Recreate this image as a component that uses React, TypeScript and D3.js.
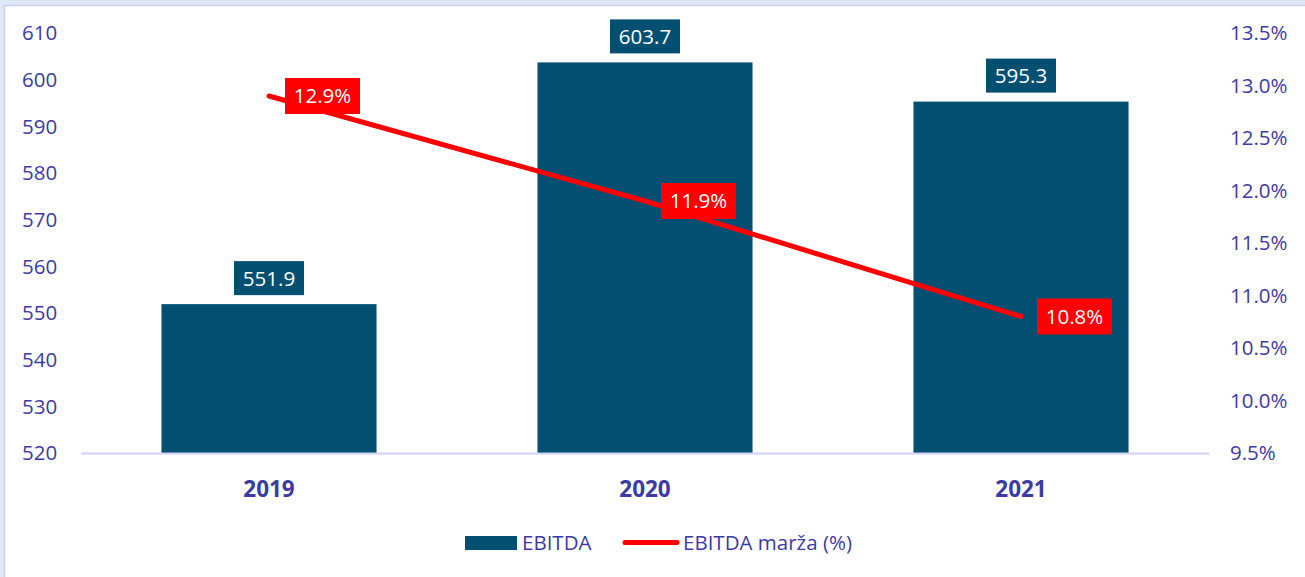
import React from "react";
import * as d3 from "d3";

const years = ["2019", "2020", "2021"];
const ebitda = [551.9, 603.7, 595.3];
const margin = [12.9, 11.9, 10.8];
const leftTicks = [520, 530, 540, 550, 560, 570, 580, 590, 600, 610];
const rightTicks = [9.5, 10.0, 10.5, 11.0, 11.5, 12.0, 12.5, 13.0, 13.5];

const W = 1305;
const H = 577;
const FONT = "'Open Sans', 'Noto Sans', sans-serif";
const TXT = "#3d3ba3";
const BAR = "#024f72";
const RED = "#ff0000";

export default function App() {
  const plot = { left: 81, right: 1209, top: 33, bottom: 453 };

  const x = d3
    .scaleBand()
    .domain(years)
    .range([plot.left, plot.right])
    .paddingInner(0.428)
    .paddingOuter(0.214);

  const yL = d3.scaleLinear().domain([520, 610]).range([plot.bottom, plot.top]);
  const yR = d3.scaleLinear().domain([9.5, 13.5]).range([plot.bottom, plot.top]);

  const cx = (d: string) => (x(d) as number) + x.bandwidth() / 2;

  const line = d3
    .line<number>()
    .x((_, i) => cx(years[i]))
    .y((d) => yR(d));

  return (
    <svg
      width={W}
      height={H}
      style={{ position: "absolute", left: 0, top: 0, display: "block" }}
    >
      <rect x={0} y={0} width={W} height={H} fill="#dce8f5" />
      <rect x={4.5} y={5.5} width={W} height={H} fill="#fff" stroke="#cfcdf0" strokeWidth={1.5} />

      {/* left axis labels */}
      {leftTicks.map((t) => (
        <text
          key={t}
          x={22}
          y={yL(t)}
          dy="0.36em"
          fontFamily={FONT}
          fontSize={20.5}
          fill={TXT}
        >
          {t}
        </text>
      ))}

      {/* right axis labels */}
      {rightTicks.map((t) => (
        <text
          key={t}
          x={1230}
          y={yR(t)}
          dy="0.36em"
          fontFamily={FONT}
          fontSize={20.5}
          fill={TXT}
        >
          {t.toFixed(1)}%
        </text>
      ))}

      {/* bars */}
      {years.map((yr, i) => (
        <rect
          key={yr}
          x={x(yr)}
          y={yL(ebitda[i])}
          width={x.bandwidth()}
          height={plot.bottom - yL(ebitda[i])}
          fill={BAR}
        />
      ))}

      <line
        x1={plot.left}
        x2={plot.right}
        y1={plot.bottom + 0.5}
        y2={plot.bottom + 0.5}
        stroke="#d4d2f2"
        strokeWidth={2}
      />

      {/* year labels */}
      {years.map((yr) => (
        <text
          key={yr}
          x={cx(yr)}
          y={489}
          dy="0.36em"
          textAnchor="middle"
          fontFamily={FONT}
          fontWeight="bold"
          fontSize={22.5}
          fill={TXT}
        >
          {yr}
        </text>
      ))}

      {/* bar value labels */}
      {years.map((yr, i) => {
        const top = yL(ebitda[i]);
        return (
          <g key={yr} transform={`translate(${cx(yr)}, ${top - 26})`}>
            <rect x={-35} y={-17} width={70} height={34} fill={BAR} />
            <text
              textAnchor="middle"
              dy="0.36em"
              fontFamily={FONT}
              fontSize={20.5}
              fill="#fff"
            >
              {ebitda[i].toFixed(1)}
            </text>
          </g>
        );
      })}

      {/* margin line */}
      <path
        d={line(margin) as string}
        fill="none"
        stroke={RED}
        strokeWidth={5}
        strokeLinecap="round"
      />

      {margin.map((m, i) => (
        <g key={i} transform={`translate(${cx(years[i]) + 16}, ${yR(m)})`}>
          <rect x={0} y={-18} width={75} height={36} fill={RED} />
          <text
            x={37.5}
            textAnchor="middle"
            dy="0.36em"
            fontFamily={FONT}
            fontSize={20.5}
            fill="#fff"
          >
            {m.toFixed(1)}%
          </text>
        </g>
      ))}

      {/* legend */}
      <rect x={465} y={536} width={52} height={14} fill={BAR} />
      <text x={522} y={543} dy="0.36em" fontFamily={FONT} fontSize={20.5} fill={TXT}>
        EBITDA
      </text>
      <line
        x1={625}
        x2={677}
        y1={542.5}
        y2={542.5}
        stroke={RED}
        strokeWidth={5}
        strokeLinecap="round"
      />
      <text x={683} y={543} dy="0.36em" fontFamily={FONT} fontSize={20.5} fill={TXT}>
        EBITDA marža (%)
      </text>
    </svg>
  );
}
